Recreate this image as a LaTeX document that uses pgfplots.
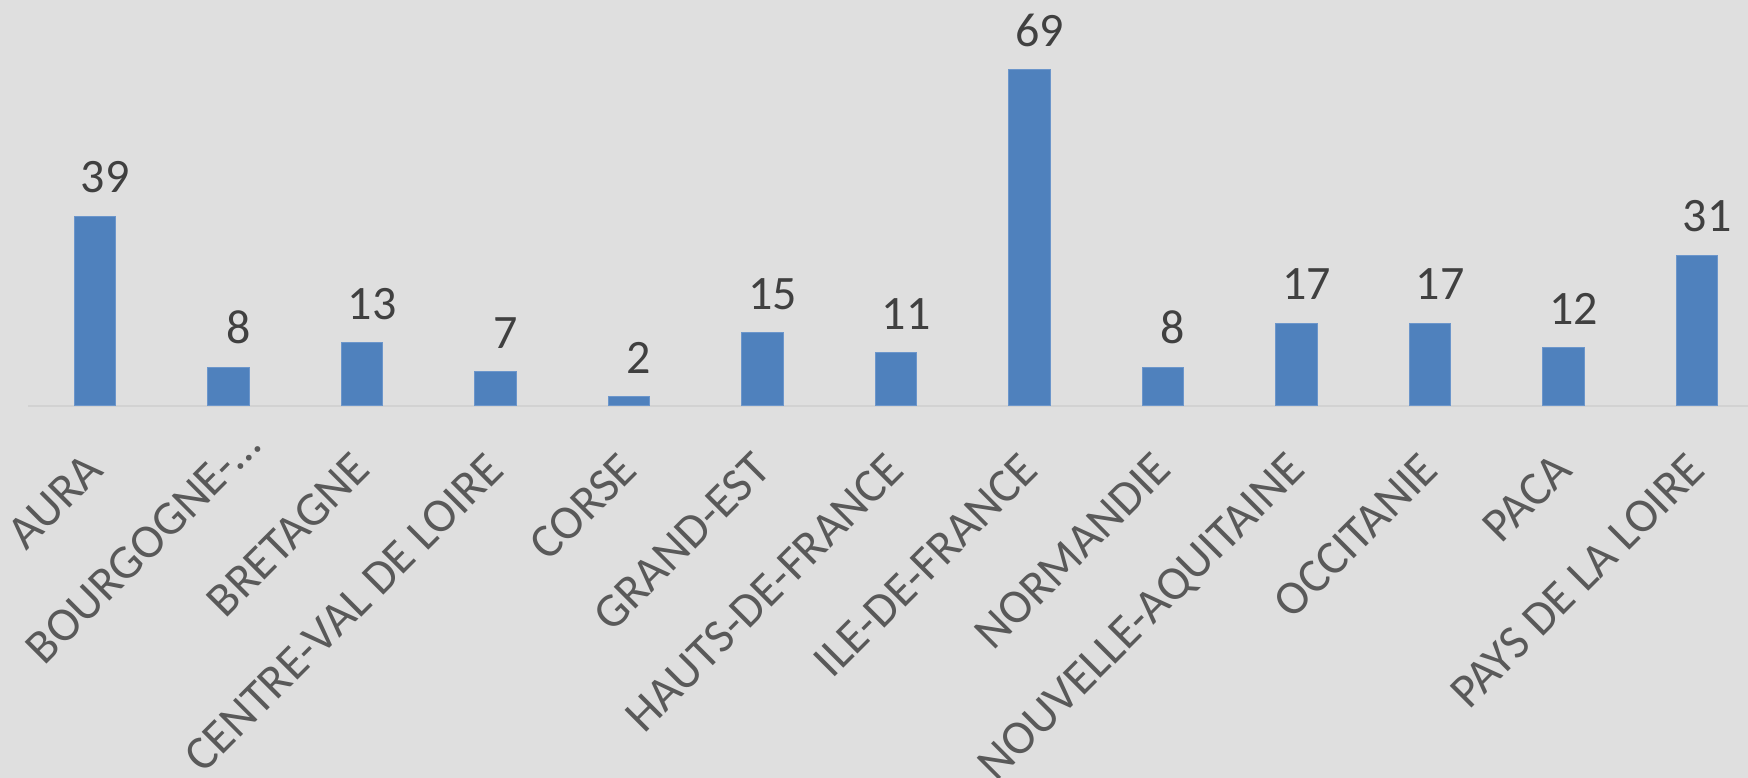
\documentclass[border=0pt]{standalone}
\usepackage{fontspec}
\setmainfont{Carlito}
\usepackage{pgfplots}
\pgfplotsset{compat=1.18}
\definecolor{bg}{HTML}{DFDFDF}
\definecolor{barblue}{HTML}{4F81BD}
\definecolor{baredge}{HTML}{6C96CB}
\definecolor{valgray}{HTML}{404040}
\definecolor{tickgray}{HTML}{595959}
\definecolor{axgray}{HTML}{D2D2D2}
\begin{document}
\begin{tikzpicture}
\fill[bg] (0,0) rectangle (437pt,194.5pt);
\begin{axis}[
  at={(7.0625pt,93pt)}, anchor=south west,
  x=33.375pt, y=1.2175pt,
  xmin=-0.5, xmax=12.5, ymin=0, ymax=75,
  clip=false,
  axis x line*=bottom, axis y line=none,
  axis line style={axgray, line width=0.4pt, -},
  major tick length=0pt,
  ytick=\empty,
  xtick={0,...,12},
  xticklabels={AURA, {BOURGOGNE-…\hspace*{-8.5pt}}, BRETAGNE, CENTRE-VAL DE LOIRE, CORSE, GRAND-EST, HAUTS-DE-FRANCE, ILE-DE-FRANCE, NORMANDIE, NOUVELLE-AQUITAINE, OCCITANIE, PACA, PAYS DE LA LOIRE},
  xticklabel style={font=\fontsize{12}{14}\selectfont, text=tickgray, inner sep=0pt, text height=7.7pt, text depth=0pt, yshift=-13.75pt, rotate=45, anchor=east},
  ybar, bar width=10.375pt,
  nodes near coords,
  /pgf/number format/assume math mode=true,
  every node near coord/.append style={font=\fontsize{12}{14}\selectfont, text=valgray, anchor=base, inner sep=0pt, yshift=5.8pt, xshift=2.5pt},
]
\addplot[fill=barblue, draw=baredge, line width=0.25pt] coordinates {
(0,39) (1,8) (2,13) (3,7) (4,2) (5,15) (6,11) (7,69) (8,8) (9,17) (10,17) (11,12) (12,31)
};
\end{axis}
\pgfresetboundingbox
\useasboundingbox (0,0) rectangle (437pt,194.5pt);
\end{tikzpicture}
\end{document}
